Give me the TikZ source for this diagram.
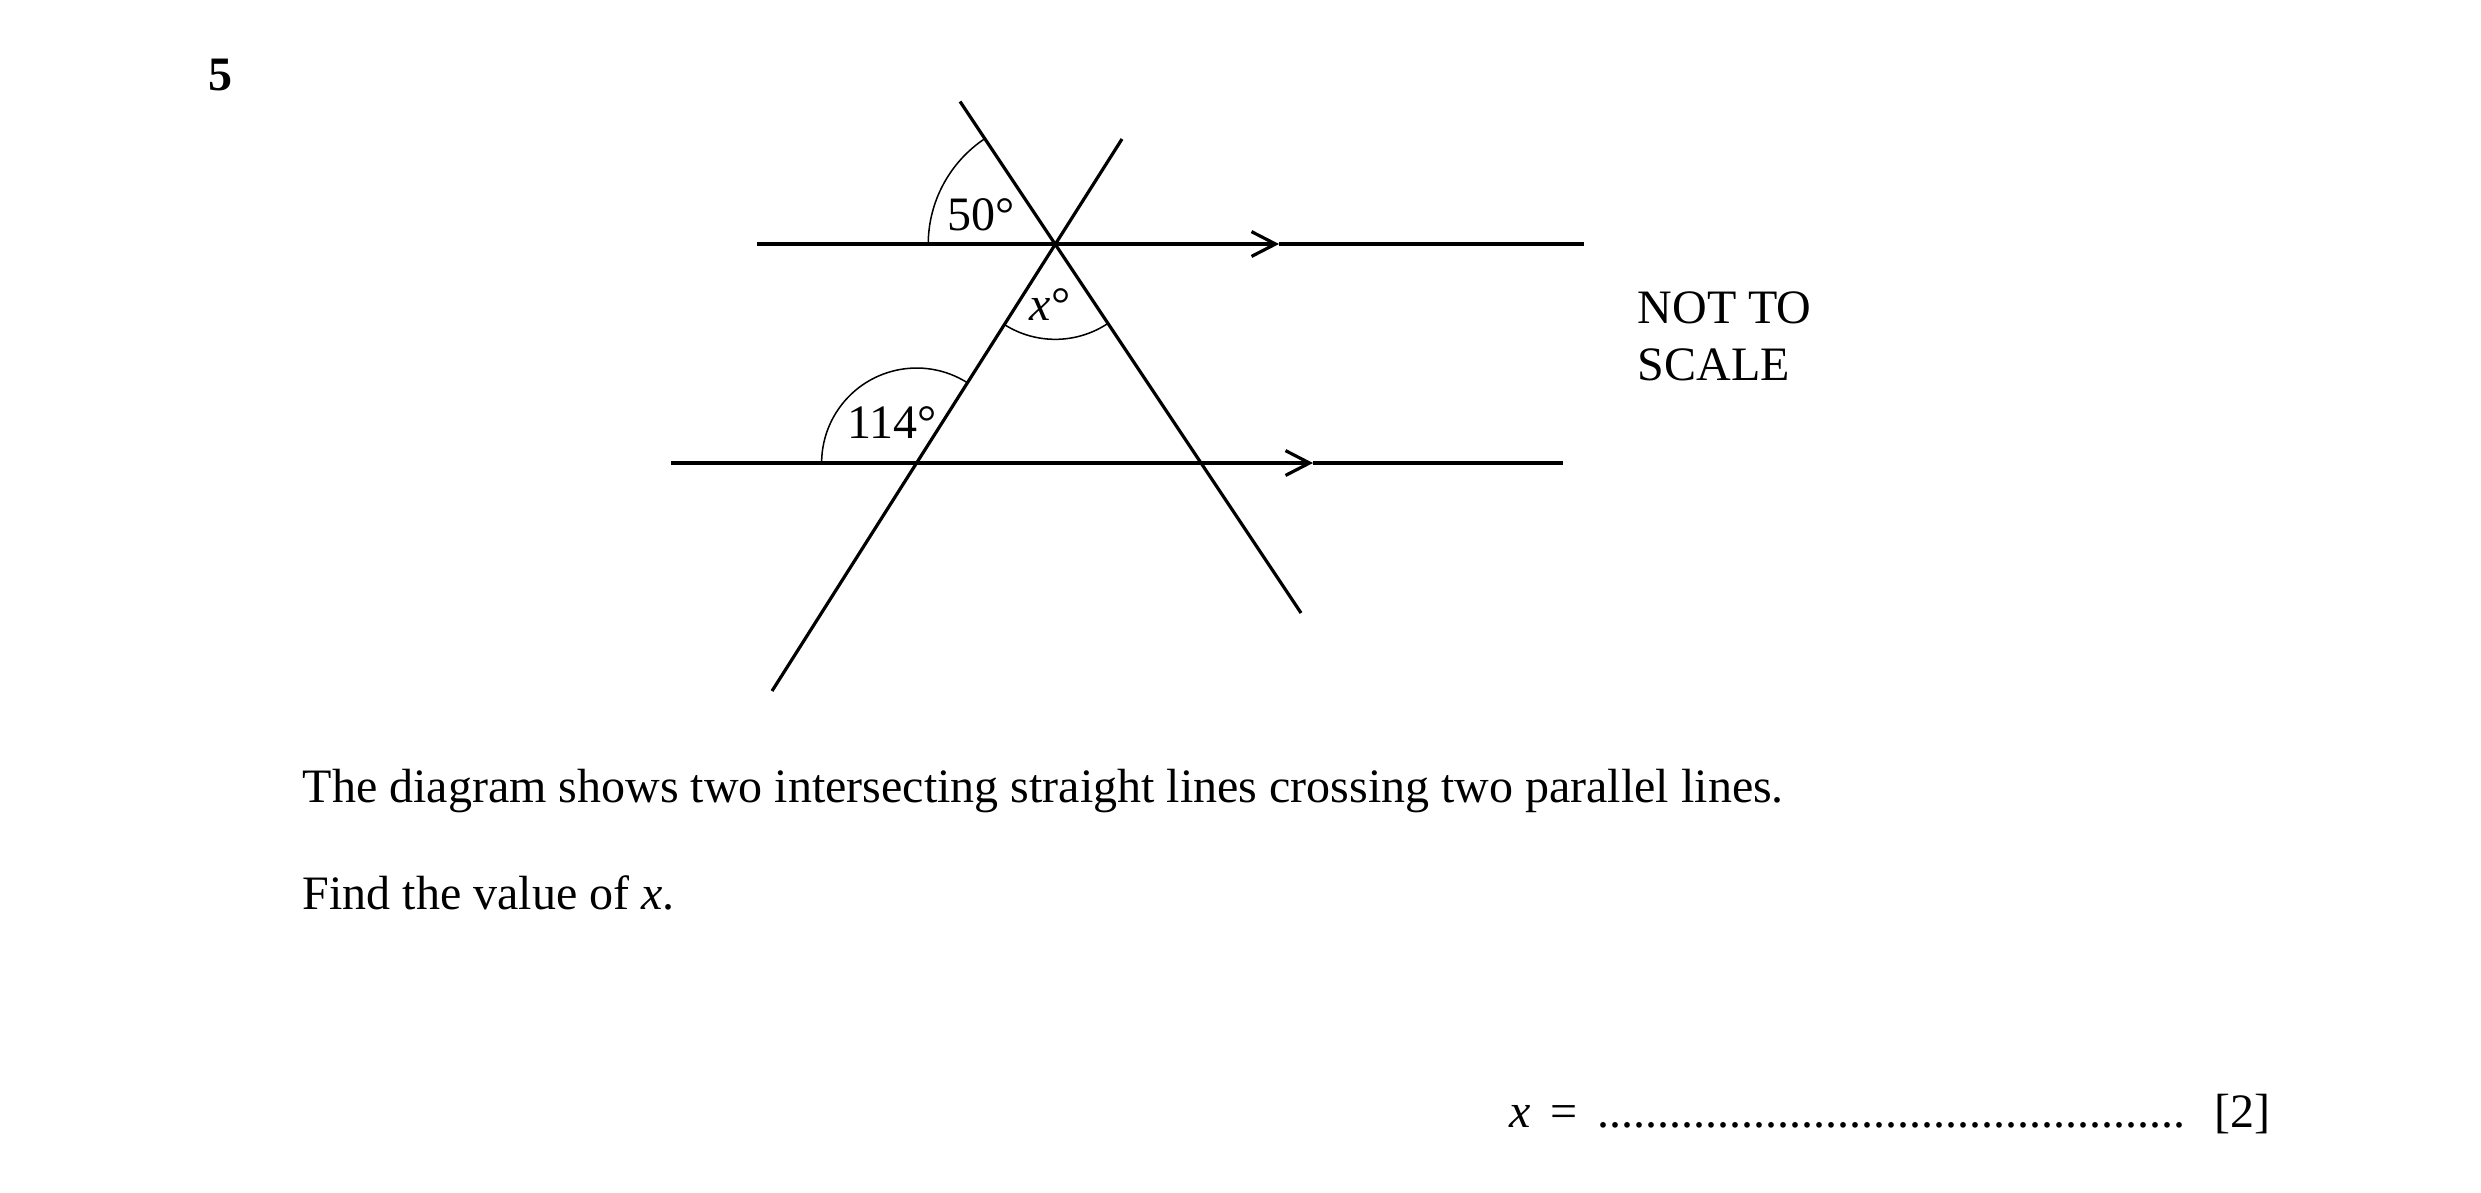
\documentclass[tikz,border=0pt]{standalone}
\usepackage{fontspec}
\setmainfont{Liberation Serif}
\usetikzlibrary{arrows.meta}

\begin{document}
\begin{tikzpicture}[x=0.25pt,y=0.25pt]
    \pgfmathsetmacro{\linew}{0.8}
    \pgfmathsetmacro{\bigarcr}{127}
    \pgfmathsetmacro{\smallarcr}{95}
    \providecommand{\qfont}{\fontsize{12}{14.2}\selectfont}
    \tikzset{
      geoline/.style={line width=\linew pt},
      anglearc/.style={line width=0.38pt},
      chev/.style={-{Straight Barb[length=6pt,width=6.2pt]}},
      lbl/.style={inner sep=0,font=\qfont},
    }
    \useasboundingbox (0,0) rectangle (2481,-1192);
    % parallel lines and the two crossing lines
    \coordinate (tl) at (757,-244);
    \coordinate (ta) at (1279,-244);
    \coordinate (tr) at (1584,-244);
    \coordinate (bl) at (671,-463);
    \coordinate (ba) at (1313,-463);
    \coordinate (br) at (1563,-463);
    \coordinate (ua) at (960,-101.5);
    \coordinate (ub) at (1301,-613);
    \coordinate (va) at (1122,-139);
    \coordinate (vb) at (772,-691);
    \coordinate (p) at (intersection of ua--ub and va--vb);
    \coordinate (q) at (intersection of va--vb and bl--br);
    \draw[geoline,chev] (tl) -- (ta);
    \draw[geoline] (ta) -- (tr);
    \draw[geoline,chev] (bl) -- (ba);
    \draw[geoline] (ba) -- (br);
    \draw[geoline] (ua) -- (ub);
    \draw[geoline] (va) -- (vb);
    \draw[anglearc] (p) ++(180:\bigarcr) arc[start angle=180,end angle=123.7,radius=\bigarcr];
    \draw[anglearc] (p) ++(-122.4:\smallarcr) arc[start angle=-122.4,end angle=-56.3,radius=\smallarcr];
    \draw[anglearc] (q) ++(57.6:\smallarcr) arc[start angle=57.6,end angle=180,radius=\smallarcr];
    \node[lbl] (a50) at (981,-215) {50°};
    \node[lbl] (ax) at (1050,-305) {\textit{x}°};
    \node[lbl] (a114) at (892,-423) {114°};
    \node[lbl,anchor=base west,align=left] (nts) at (1637,-380) {NOT TO\\SCALE};
    % question text
    \node[lbl,font=\qfont\bfseries,anchor=base west] (qnum) at (208,-90) {5};
    \node[lbl,anchor=base west] (stem) at (302,-802) {The diagram shows two intersecting straight lines crossing two parallel lines.};
    \node[lbl,anchor=base west] (ask) at (302,-909) {Find the value of \textit{x}.};
    \node[lbl,anchor=base west] (ansx) at (1509,-1127) {\textit{x}\hspace{0.4em}=};
    \node[lbl,anchor=base west] (ansdots) at (1597,-1127) {.................................................};
    \node[lbl,anchor=base east] (marks) at (2271,-1127) {[2]};
\end{tikzpicture}
\end{document}
